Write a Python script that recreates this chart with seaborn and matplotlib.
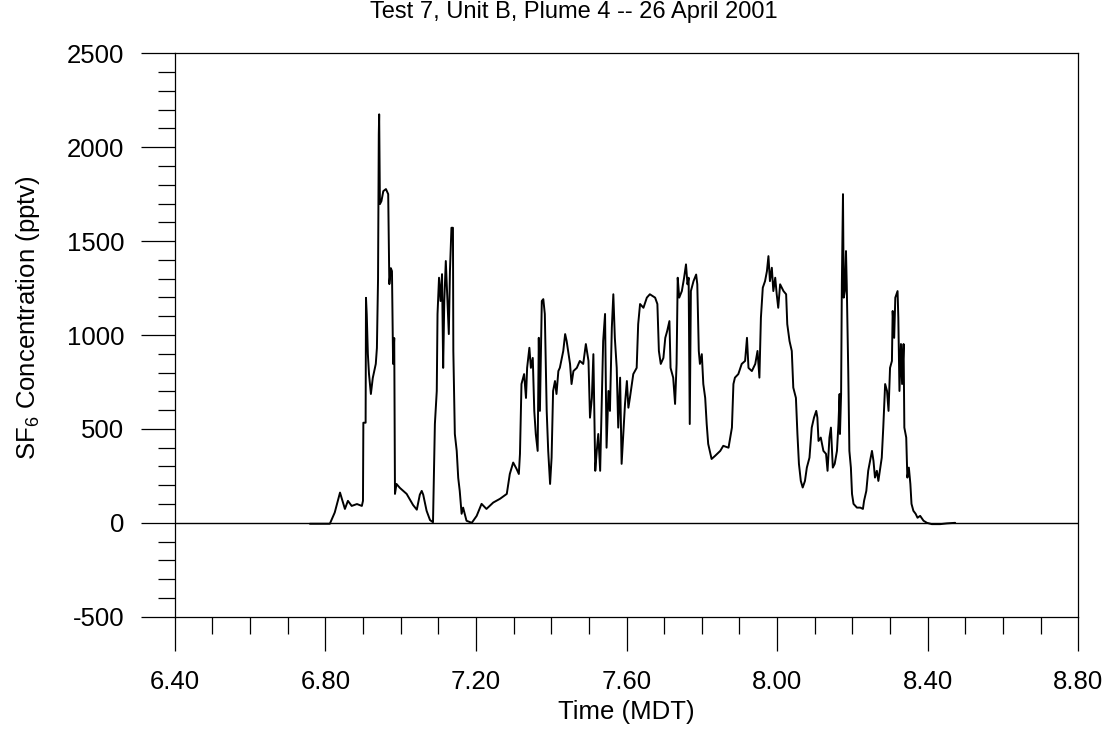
import matplotlib
matplotlib.use("Agg")
import matplotlib.pyplot as plt
import seaborn as sns
import pandas as pd
from matplotlib.ticker import MultipleLocator, FixedLocator

title_text = "Test 7, Unit B, Plume 4 -- 26 April 2001"
x_label = "Time (MDT)"
y_label = "SF$_6$ Concentration (pptv)"

time_mdt = [
    6.759, 6.812, 6.825, 6.839, 6.852, 6.860, 6.870, 6.884, 6.897, 6.900,
    6.901, 6.907, 6.908, 6.910, 6.913, 6.916, 6.921, 6.926, 6.934, 6.937,
    6.940, 6.942, 6.943, 6.945, 6.949, 6.954, 6.961, 6.967, 6.970, 6.974,
    6.977, 6.979, 6.980, 6.983, 6.985, 6.989, 6.998, 7.016, 7.033, 7.043,
    7.051, 7.056, 7.060, 7.069, 7.078, 7.086, 7.091, 7.096, 7.098, 7.102,
    7.106, 7.110, 7.113, 7.116, 7.120, 7.124, 7.128, 7.131, 7.135, 7.139,
    7.140, 7.144, 7.149, 7.153, 7.157, 7.162, 7.166, 7.175, 7.189, 7.202,
    7.215, 7.228, 7.246, 7.264, 7.282, 7.290, 7.299, 7.308, 7.314, 7.317,
    7.321, 7.328, 7.333, 7.336, 7.342, 7.346, 7.351, 7.355, 7.359, 7.364,
    7.367, 7.370, 7.375, 7.379, 7.383, 7.388, 7.392, 7.397, 7.401, 7.405,
    7.410, 7.414, 7.419, 7.423, 7.432, 7.437, 7.441, 7.445, 7.450, 7.454,
    7.459, 7.468, 7.476, 7.485, 7.492, 7.499, 7.503, 7.508, 7.512, 7.514,
    7.517, 7.521, 7.525, 7.530, 7.534, 7.538, 7.543, 7.547, 7.552, 7.556,
    7.561, 7.565, 7.569, 7.574, 7.578, 7.583, 7.587, 7.591, 7.596, 7.601,
    7.605, 7.609, 7.618, 7.627, 7.631, 7.636, 7.645, 7.654, 7.662, 7.676,
    7.682, 7.686, 7.691, 7.698, 7.703, 7.708, 7.714, 7.717, 7.724, 7.729,
    7.733, 7.736, 7.740, 7.747, 7.753, 7.758, 7.762, 7.765, 7.768, 7.771,
    7.778, 7.785, 7.788, 7.792, 7.795, 7.800, 7.804, 7.809, 7.813, 7.817,
    7.826, 7.835, 7.849, 7.857, 7.871, 7.880, 7.884, 7.888, 7.897, 7.906,
    7.915, 7.920, 7.924, 7.933, 7.942, 7.948, 7.953, 7.957, 7.962, 7.968,
    7.973, 7.977, 7.981, 7.986, 7.990, 7.995, 7.999, 8.003, 8.008, 8.017,
    8.024, 8.027, 8.033, 8.039, 8.043, 8.050, 8.054, 8.058, 8.063, 8.068,
    8.074, 8.079, 8.086, 8.092, 8.098, 8.104, 8.107, 8.110, 8.116, 8.123,
    8.130, 8.134, 8.139, 8.143, 8.148, 8.153, 8.159, 8.163, 8.166, 8.167,
    8.170, 8.172, 8.175, 8.177, 8.180, 8.183, 8.185, 8.189, 8.192, 8.196,
    8.199, 8.203, 8.212, 8.221, 8.228, 8.231, 8.237, 8.242, 8.247, 8.252,
    8.256, 8.260, 8.265, 8.269, 8.274, 8.278, 8.282, 8.287, 8.292, 8.296,
    8.300, 8.305, 8.307, 8.311, 8.314, 8.320, 8.322, 8.325, 8.329, 8.332,
    8.336, 8.338, 8.343, 8.346, 8.350, 8.354, 8.357, 8.362, 8.368, 8.373,
    8.380, 8.389, 8.398, 8.411, 8.433, 8.451, 8.473,
]

sf6_pptv = [
    -5, -5, 55, 161, 74, 117, 90, 100, 90, 117,
    533, 533, 1198, 1110, 898, 792, 686, 771, 846, 931,
    1298, 2069, 2175, 1697, 1713, 1766, 1777, 1750, 1271, 1356,
    1340, 1005, 846, 984, 154, 207, 186, 154, 95, 70,
    150, 170, 150, 64, 15, 3, 526, 702, 1112, 1305,
    1181, 1324, 825, 1181, 1394, 1199, 1005, 1340, 1571, 1571,
    915, 473, 383, 239, 170, 48, 81, 11, 0, 37,
    101, 74, 108, 128, 154, 260, 321, 287, 260, 367,
    739, 792, 665, 825, 932, 825, 878, 596, 473, 383,
    985, 596, 1181, 1191, 1112, 596, 383, 207, 347, 702,
    755, 686, 808, 826, 915, 1005, 968, 915, 846, 739,
    808, 825, 862, 846, 952, 862, 560, 665, 898, 649,
    277, 383, 473, 277, 613, 968, 1112, 400, 702, 596,
    1039, 1217, 985, 825, 507, 773, 314, 454, 633, 755,
    613, 665, 792, 825, 1058, 1165, 1145, 1199, 1217, 1199,
    1165, 915, 846, 878, 985, 1021, 1074, 825, 773, 633,
    846, 1305, 1199, 1234, 1305, 1376, 1270, 1305, 526, 1234,
    1287, 1322, 1270, 915, 846, 898, 739, 665, 526, 420,
    340, 356, 383, 410, 400, 507, 739, 773, 792, 846,
    862, 985, 825, 808, 846, 915, 773, 1092, 1252, 1287,
    1340, 1420, 1287, 1358, 1234, 1305, 1217, 1145, 1270, 1234,
    1217, 1058, 968, 915, 720, 665, 473, 314, 223, 188,
    223, 294, 347, 507, 560, 596, 560, 436, 454, 383,
    367, 277, 454, 507, 294, 314, 383, 526, 686, 473,
    686, 1270, 1750, 1199, 1234, 1447, 1270, 808, 383, 294,
    154, 101, 81, 81, 74, 117, 170, 277, 330, 383,
    330, 241, 277, 223, 294, 347, 507, 739, 702, 596,
    825, 862, 1128, 985, 1199, 1234, 1092, 702, 952, 739,
    952, 507, 454, 241, 294, 207, 101, 64, 48, 27,
    37, 11, 0, -7, -7, -3, 0,
]

x_ticks = [6.40, 6.80, 7.20, 7.60, 8.00, 8.40, 8.80]
x_tick_labels = ["6.40", "6.80", "7.20", "7.60", "8.00", "8.40", "8.80"]
y_ticks = [-500, 0, 500, 1000, 1500, 2000, 2500]
y_tick_labels = ["-500", "0", "500", "1000", "1500", "2000", "2500"]

sns.set_style("ticks")
plt.rcParams["font.family"] = ["Liberation Sans", "DejaVu Sans"]
plt.rcParams["text.color"] = "black"
plt.rcParams["axes.labelcolor"] = "black"
plt.rcParams["mathtext.fontset"] = "custom"
plt.rcParams["mathtext.rm"] = "Liberation Sans"
plt.rcParams["mathtext.it"] = "Liberation Sans:italic"
plt.rcParams["mathtext.bf"] = "Liberation Sans:bold"

fig = plt.figure(figsize=(11.13, 7.29), dpi=100)
ax = fig.add_axes([0.157, 0.154, 0.8118, 0.7729])

df = pd.DataFrame({"time": time_mdt, "sf6": sf6_pptv})
sns.lineplot(data=df, x="time", y="sf6", ax=ax, color="black", lw=1.4,
             sort=False, estimator=None)
ax.axhline(0, color="black", lw=1.0, zorder=1)

ax.set_xlim(6.40, 8.80)
ax.set_ylim(-500, 2500)
ax.xaxis.set_major_locator(FixedLocator(x_ticks))
ax.set_xticklabels(x_tick_labels)
ax.yaxis.set_major_locator(FixedLocator(y_ticks))
ax.set_yticklabels(y_tick_labels)
ax.xaxis.set_minor_locator(MultipleLocator(0.1))
ax.yaxis.set_minor_locator(MultipleLocator(100))

for s in ax.spines.values():
    s.set_visible(True)
    s.set_linewidth(0.9)
    s.set_color("black")

ax.tick_params(which="major", direction="out", length=24.5, width=0.9,
               color="black", labelsize=18.5, labelcolor="black")
ax.tick_params(which="minor", direction="out", length=12.5, width=0.9,
               color="black")
ax.tick_params(axis="y", which="major", pad=12)
ax.tick_params(axis="x", which="major", pad=14)
ax.tick_params(top=False, right=False, which="both")

ax.set_xlabel(x_label, fontsize=18.5, labelpad=4)
ax.set_ylabel(y_label, fontsize=18.5)
ax.yaxis.set_label_coords(-0.147, 0.53)
fig.text(0.516, 0.9835, title_text, ha="center", va="center", fontsize=17,
         color="black")

fig.savefig("out.png", dpi=100, facecolor="white")
